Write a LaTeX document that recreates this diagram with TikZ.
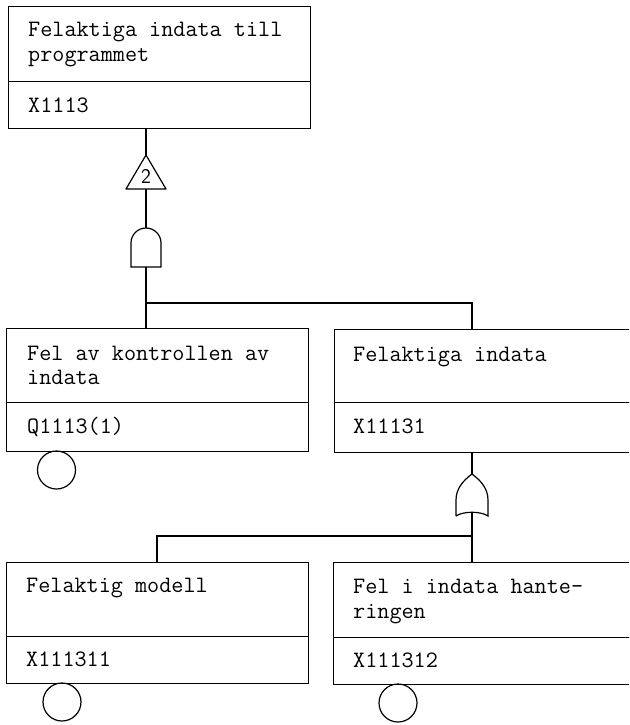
\documentclass[tikz,border=0pt]{standalone}
\begin{document}
\begin{tikzpicture}[x=1pt,y=-1pt,
  ln/.style={line width=1.2pt},
  box/.style={draw, line width=1.2pt, rectangle, inner sep=0pt, anchor=north west},
  lbl/.style={anchor=base west, inner sep=0pt, font=\fontsize{23.5}{25}\selectfont\ttfamily},
  basic/.style={draw, circle, line width=1.2pt, minimum size=38pt, inner sep=0pt},
]
\path[use as bounding box] (0,0) rectangle (629,725);
\clip (0,0) rectangle (629,725);

% boxes
\node[box, minimum width=302pt, minimum height=75pt] (b1t) at (8,6) {};
\node[box, minimum width=302pt, minimum height=47pt] (b1b) at (8,81) {};
\node[box, minimum width=302pt, minimum height=74pt] (b2t) at (6,328) {};
\node[box, minimum width=302pt, minimum height=49pt] (b2b) at (6,402) {};
\node[box, minimum width=306pt, minimum height=73pt] (b3t) at (334,329) {};
\node[box, minimum width=306pt, minimum height=50pt] (b3b) at (334,402) {};
\node[box, minimum width=302pt, minimum height=74pt] (b4t) at (6,562) {};
\node[box, minimum width=302pt, minimum height=47pt] (b4b) at (6,636) {};
\node[box, minimum width=307pt, minimum height=75pt] (b5t) at (333,562) {};
\node[box, minimum width=307pt, minimum height=47pt] (b5b) at (333,637) {};

% texts
\node[lbl] (t1a) at (28,37) {Felaktiga indata till};
\node[lbl] (t1b) at (28,62) {programmet};
\node[lbl] (t1c) at (28,112) {X1113};
\node[lbl] (t2a) at (27,360) {Fel av kontrollen av};
\node[lbl] (t2b) at (27,384) {indata};
\node[lbl] (t2c) at (27,433) {Q1113(1)};
\node[lbl] (t3a) at (353,361) {Felaktiga indata};
\node[lbl] (t3c) at (353,433) {X11131};
\node[lbl] (t4a) at (26,592) {Felaktig modell};
\node[lbl] (t4c) at (26,666) {X111311};
\node[lbl] (t5a) at (353,593) {Fel i indata hante-};
\node[lbl] (t5b) at (353,618) {ringen};
\node[lbl] (t5c) at (353,667) {X111312};

% transfer triangle
\coordinate (triT) at (146,155);
\coordinate (triB) at (146,189);
\draw[ln, line join=round] (triT) -- (126,189) -- (166,189) -- cycle;
\node[inner sep=0pt, font=\fontsize{21}{21}\selectfont\sffamily] (two) at (146,176) {2};
\draw[ln] (triT |- b1b.south) -- (triT);

% AND gate
\coordinate (andT) at (146,228);
\coordinate (andB) at (146,267);
\draw[ln] (131,267) -- (131,243) arc[start angle=180, end angle=0, radius=15pt] -- (161,267) -- cycle;
\draw[ln] (triB) -- (andT);

\coordinate (jA) at (146,303);
\coordinate (jB) at (472,303);
\draw[ln] (andB) -- (jA) -- (jB) -- (jB |- b3t.north);
\draw[ln] (jA) -- (jA |- b2t.north);

% OR gate
\coordinate (orT) at (472,474);
\coordinate (orB) at (472,512);
\draw[ln] (456,516) -- (456,500) .. controls (456,488) and (464,480) .. (orT)
  .. controls (480,480) and (488,488) .. (488,500) -- (488,516)
  .. controls (481,511) and (463,511) .. (456,516);
\draw[ln] (orT |- b3b.south) -- (orT);

\coordinate (jC) at (157,536);
\coordinate (jD) at (472,536);
\draw[ln] (orB) -- (orT |- b5t.north);
\draw[ln] (jD) -- (jC) -- (jC |- b4t.north);

% basic events
\node[basic] (c1) at (56.5,470) {};
\node[basic] (c2) at (62,702) {};
\node[basic] (c3) at (398,703) {};
\end{tikzpicture}
\end{document}
